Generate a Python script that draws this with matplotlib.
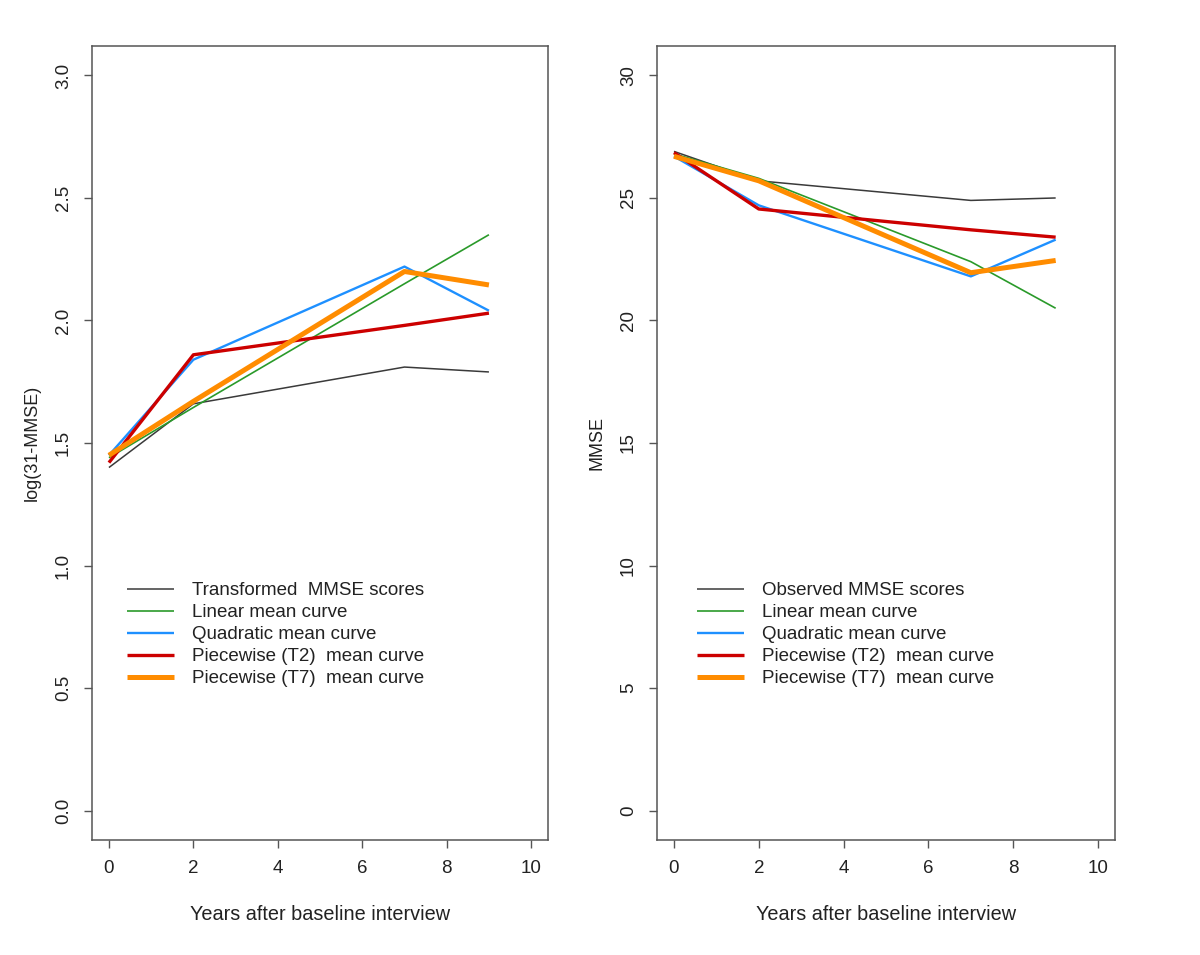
import matplotlib
matplotlib.use("Agg")
import matplotlib.pyplot as plt

plt.rcParams['font.family'] = ['Liberation Sans', 'DejaVu Sans']

years = [0, 2, 7, 9]

# left panel: log(31-MMSE)
log_observed = [1.40, 1.66, 1.81, 1.79]
log_linear = [1.44, 1.645, 2.15, 2.35]
log_quadratic = [1.45, 1.84, 2.22, 2.04]
log_pw_t2 = [1.42, 1.86, 1.98, 2.03]
log_pw_t7 = [1.45, 1.67, 2.20, 2.145]

# right panel: MMSE
mmse_observed = [26.9, 25.7, 24.9, 25.0]
mmse_linear = [26.8, 25.8, 22.4, 20.5]
mmse_quadratic = [26.7, 24.7, 21.8, 23.3]
mmse_pw_t2 = [26.85, 24.55, 23.7, 23.4]
mmse_pw_t7 = [26.7, 25.7, 21.95, 22.45]

left_labels = ["Transformed  MMSE scores", "Linear mean curve", "Quadratic mean curve",
               "Piecewise (T2)  mean curve", "Piecewise (T7)  mean curve"]
right_labels = ["Observed MMSE scores", "Linear mean curve", "Quadratic mean curve",
                "Piecewise (T2)  mean curve", "Piecewise (T7)  mean curve"]

colors = ['#3a3a3a', '#2a9a2a', '#1e90ff', '#cc0000', '#ff8c00']
widths = [1.1, 1.2, 1.7, 2.4, 3.6]

left_ticks = [0.0, 0.5, 1.0, 1.5, 2.0, 2.5, 3.0]
right_ticks = [0, 5, 10, 15, 20, 25, 30]
x_ticks = [0, 2, 4, 6, 8, 10]

fig = plt.figure(figsize=(12, 9.55), dpi=100)
ax1 = fig.add_axes([0.0767, 0.1204, 0.38, 0.8314])
ax2 = fig.add_axes([0.5475, 0.1204, 0.3817, 0.8314])


def draw_panel(ax, series, labels, yticks, ylabel, yfmt, legend_x):
    for ys, c, w, lab in zip(series, colors, widths, labels):
        ax.plot(years, ys, color=c, lw=w, label=lab, solid_capstyle='butt')
    # R-style 4% padding
    ax.set_xlim(-0.4, 10.4)
    span = yticks[-1] - yticks[0]
    ax.set_ylim(yticks[0] - 0.04 * span, yticks[-1] + 0.04 * span)
    ax.set_xticks(x_ticks)
    ax.set_yticks(yticks)
    ax.set_yticklabels([yfmt.format(v) for v in yticks], rotation=90, va='center')
    ax.tick_params(axis='both', direction='out', length=5.5, width=1.0,
                   color='#555555', labelsize=13.5, labelcolor='#222222')
    ax.tick_params(axis='x', pad=9)
    ax.tick_params(axis='y', pad=9)
    for s in ax.spines.values():
        s.set_color('#555555')
        s.set_linewidth(1.1)
    ax.set_xlabel("Years after baseline interview", fontsize=14.3, labelpad=20, color='#222222')
    ax.set_ylabel(ylabel, fontsize=13, labelpad=10, color='#222222')
    leg = ax.legend(loc='upper left', bbox_to_anchor=(legend_x, 0.325), frameon=False,
                    fontsize=13.5, borderpad=0, borderaxespad=0, handlelength=2.5,
                    handletextpad=0.95, labelspacing=0.26)
    for t in leg.get_texts():
        t.set_color('#222222')


draw_panel(ax1, [log_observed, log_linear, log_quadratic, log_pw_t2, log_pw_t7],
           left_labels, left_ticks, "log(31-MMSE)", "{:.1f}", 0.077)
draw_panel(ax2, [mmse_observed, mmse_linear, mmse_quadratic, mmse_pw_t2, mmse_pw_t7],
           right_labels, right_ticks, "MMSE", "{:d}", 0.087)

fig.savefig("out.png", dpi=100)
